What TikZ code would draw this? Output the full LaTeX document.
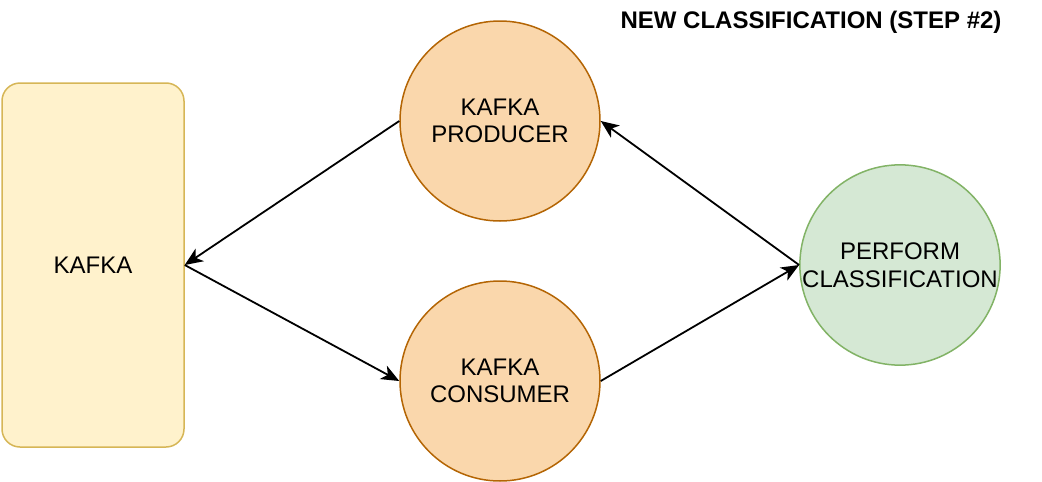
\documentclass[tikz,border=0pt]{standalone}
\usepackage{fontspec}
\setmainfont{Liberation Sans}
\usetikzlibrary{arrows.meta}

\definecolor{kafkafill}{HTML}{FFF2CC}
\definecolor{kafkadraw}{HTML}{D6B656}
\definecolor{orangefill}{HTML}{FAD7AC}
\definecolor{orangedraw}{HTML}{B46504}
\definecolor{greenfill}{HTML}{D5E8D4}
\definecolor{greendraw}{HTML}{82B366}

\tikzstyle{mybox} = [draw=kafkadraw, fill=kafkafill, line width=1.5pt,
    rectangle, rounded corners=18pt, minimum width=182pt, minimum height=364pt]
\tikzstyle{mycircle} = [circle, draw=orangedraw, fill=orangefill, line width=1.5pt,
    minimum size=200pt, inner sep=0pt, align=center]
\tikzstyle{greencircle} = [mycircle, draw=greendraw, fill=greenfill]
\tikzstyle{mytext} = [font=\fontsize{24}{27.5}\selectfont]
\tikzstyle{fancytitle} = [font=\fontsize{24}{28}\selectfont\bfseries]
\tikzstyle{myarrow} = [-{Stealth[length=18pt,width=15pt,inset=5pt]}, line width=1.8pt]

\begin{document}
\begin{tikzpicture}[x=1pt, y=-1pt]
\useasboundingbox (0,0) rectangle (1042,482);
\node [mybox, mytext] (kafka) at (93,265) {KAFKA};
\node [mycircle, mytext] (producer) at (500,121) {KAFKA\\PRODUCER};
\node [mycircle, mytext] (consumer) at (500,381) {KAFKA\\CONSUMER};
\node [greencircle, mytext] (classify) at (900,265) {PERFORM\\CLASSIFICATION};
\node [fancytitle] (title) at (811,22) {NEW CLASSIFICATION (STEP \#2)};

\draw [myarrow] (producer.west) -- (kafka.east);
\draw [myarrow] (kafka.east) -- (consumer.west);
\draw [myarrow] (consumer.east) -- (classify.west);
\draw [myarrow] (classify.west) -- (producer.east);
\end{tikzpicture}
\end{document}
